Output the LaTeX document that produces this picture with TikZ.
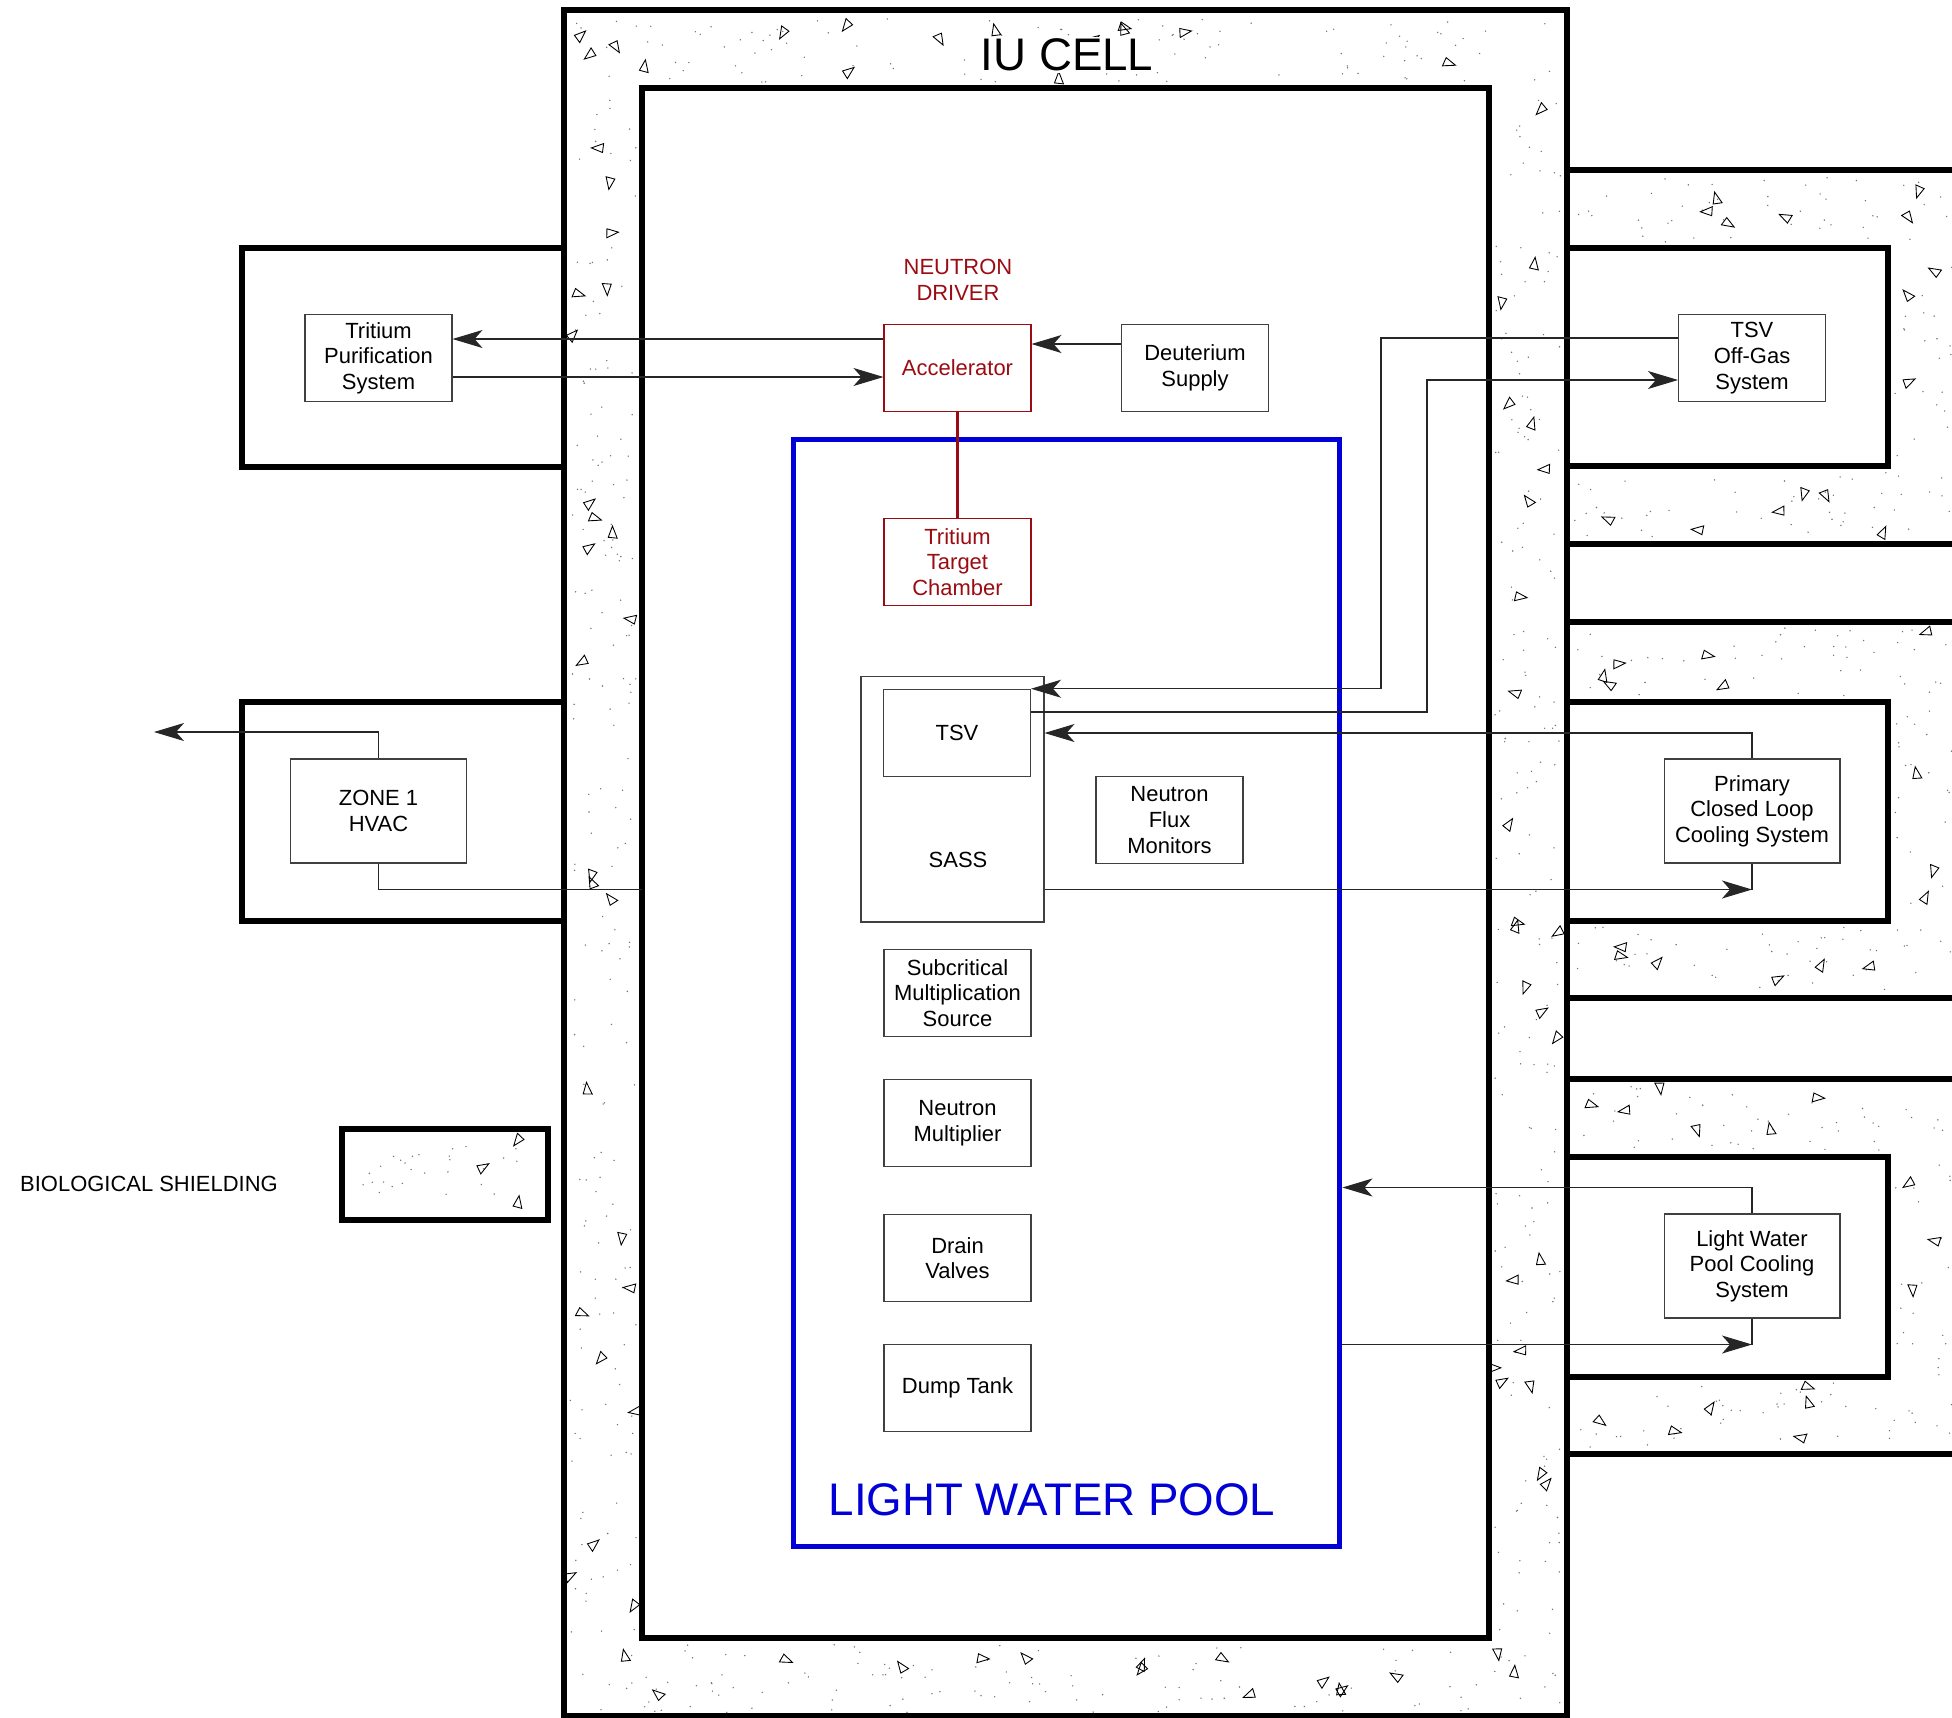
\documentclass[tikz,border=0pt]{standalone}
\usepackage{fontspec}
\setmainfont{Liberation Sans}
\usetikzlibrary{arrows.meta}
\definecolor{driverred}{RGB}{155,12,18}
\definecolor{poolblue}{RGB}{0,0,215}
\tikzset{
    box/.style={draw=black!75, line width=0.6pt, fill=white,
                minimum width=2.94cm, minimum height=1.75cm,
                inner sep=2pt, align=center,
                font=\fontsize{12.5}{14.6}\selectfont},
    widebox/.style={box, minimum width=3.52cm, minimum height=2.08cm},
    driver/.style={box, draw=driverred, text=driverred},
    flow/.style={-{Stealth[length=0.6cm, width=0.36cm, inset=0.16cm]},
                 line width=0.6pt, black!85},
    pipe/.style={line width=0.6pt, black!85},
    wall/.style={line width=0.11cm},
    note/.style={font=\fontsize{12.5}{14.6}\selectfont, align=center},
    title/.style={font=\fontsize{26}{30}\selectfont},
    grit/.style={line width=0.5pt},
}
% scatter of concrete grit in a rectangle: x1 y1 x2 y2 dots triangles
\newcommand{\gritfill}[6]{%
  \foreach \k in {1,...,#5}{
    \pgfmathsetmacro{\cx}{(#1)+rnd*((#3)-(#1))}
    \pgfmathsetmacro{\cy}{(#2)+rnd*((#4)-(#2))}
    \fill[black!55] (\cx,\cy) circle[radius=0.45pt];
  }
  \foreach \k in {1,...,#6}{
    \pgfmathsetmacro{\cx}{(#1)+rnd*((#3)-(#1)-10)+5}
    \pgfmathsetmacro{\cy}{(#2)+rnd*((#4)-(#2)-10)+5}
    \pgfmathsetmacro{\ca}{rnd*360}
    \draw[grit] (\cx,\cy) -- +(\ca:13) -- +(\ca+42:12) -- cycle;
  }}

\begin{document}
\begin{tikzpicture}[x=0.02cm, y=-0.02cm]
    \useasboundingbox (0,0) rectangle (1952,1718);
    \pgfmathsetseed{1952}

    % concrete
    \gritfill{570}{16}{1561}{82}{110}{16}
    \gritfill{570}{1644}{1561}{1714}{115}{16}
    \gritfill{570}{92}{636}{1634}{170}{24}
    \gritfill{1495}{92}{1561}{1634}{170}{24}
    \gritfill{352}{1138}{525}{1205}{27}{3}
    \foreach \t/\rt/\rb/\b in {170/248/466/544, 622/702/921/998, 1079/1157/1377/1454}{
        \gritfill{1574}{\t+6}{1952}{\rt-6}{45}{6}
        \gritfill{1574}{\rb+6}{1952}{\b-6}{45}{6}
        \gritfill{1894}{\rt}{1952}{\rb}{20}{3}
    }

    % walls and rooms
    \draw[wall] (564,10) rectangle (1567,1716);
    \draw[wall] (642,88) rectangle (1489,1638);
    \draw[wall] (564,248) -| (242,467) -- (564,467);
    \draw[wall] (564,702) -| (242,921) -- (564,921);
    \foreach \t/\rt/\rb/\b in {170/248/466/544, 622/702/921/998, 1079/1157/1377/1454}{
        \draw[wall] (1567,\t) -- (1960,\t);
        \draw[wall] (1567,\rt) -| (1888,\rb) -- (1567,\rb);
        \draw[wall] (1567,\b) -- (1960,\b);
    }
    \draw[wall] (342,1129) rectangle (548,1220);

    \node[title, fill=white, inner sep=1pt] (cell) at (1067,55) {IU CELL};
    \node[draw=poolblue, line width=0.1cm, minimum width=10.94cm,
          minimum height=22.16cm] (pool) at (1066.5,993) {};
    \node[title, text=poolblue] (poollabel) at (1052,1500) {LIGHT WATER POOL};
    \node[note, anchor=west] (biolabel) at (14,1184) {BIOLOGICAL SHIELDING};

    \node[note, text=driverred] (driverlabel) at (958,280) {NEUTRON\\DRIVER};
    \node[driver] (accel) at (957.5,368) {Accelerator};
    \node[box] (deut) at (1195,368) {Deuterium\\Supply};
    \node[driver] (ttc) at (957.5,562) {Tritium\\Target\\Chamber};
    \node[box] (tps) at (378.5,358) {Tritium\\Purification\\System};
    \node[box] (tsvog) at (1752,358) {TSV\\Off-Gas\\System};

    \node[draw=black!75, line width=0.6pt, minimum width=3.66cm,
          minimum height=4.92cm] (sass) at (952.5,799) {};
    \node[box] (tsv) at (957,733) {TSV};
    \node[note] (sasslabel) at (958,860) {SASS};
    \node[box] (nfm) at (1169.5,820) {Neutron\\Flux\\Monitors};
    \node[box] (sms) at (957.5,993) {Subcritical\\Multiplication\\Source};
    \node[box] (nmult) at (957.5,1123) {Neutron\\Multiplier};
    \node[box] (dv) at (957.5,1258) {Drain\\Valves};
    \node[box] (dtank) at (957.5,1388) {Dump Tank};

    \node[widebox] (hvac) at (378.5,811) {ZONE 1\\HVAC};
    \node[widebox] (pcl) at (1752,811) {Primary\\Closed Loop\\Cooling System};
    \node[widebox] (lwpc) at (1752,1266) {Light Water\\Pool Cooling\\System};

    % connectors
    \coordinate (tpsin) at ([yshift=0.38cm]tps.east);
    \coordinate (tpsout) at ([yshift=-0.38cm]tps.east);
    \draw[flow] (tpsin -| accel.west) -- (tpsin);
    \draw[flow] (tpsout) -- (tpsout -| accel.west);
    \coordinate (deutout) at ([yshift=0.48cm]deut.west);
    \draw[flow] (deutout) -- (deutout -| accel.east);
    \draw[driverred, line width=1.4pt] (accel.south) -- (ttc.north);

    \coordinate (ogout) at ([yshift=0.4cm]tsvog.west);
    \coordinate (ogin) at ([yshift=-0.44cm]tsvog.west);
    \coordinate (riserA) at (1381,0);
    \coordinate (riserB) at (1427,0);
    \draw[flow] (ogout) -- (ogout -| riserA) -- (riserA |- tsv.north east)
        -- (tsv.north east);
    \coordinate (tsvout) at ([yshift=0.42cm]tsv.east);
    \draw[flow] (tsvout) -- (tsvout -| riserB) -- (riserB |- ogin) -- (ogin);

    \draw[flow] (pcl.north) |- (tsv.east -| sass.east);
    \coordinate (pclin) at ([yshift=-0.52cm]pcl.south);
    \draw[pipe] (pcl.south) -- (pclin);
    \draw[flow] (pclin -| sass.east) -- (pclin);

    \coordinate (exhaust) at (154,732);
    \draw[flow] (hvac.north) |- (exhaust);
    \coordinate (hvacout) at ([yshift=-0.52cm]hvac.south);
    \coordinate (cellin) at (642,88);
    \draw[pipe] (hvac.south) -- (hvacout) -- (hvacout -| cellin);

    \coordinate (lwpcout) at ([yshift=0.52cm]lwpc.north);
    \draw[flow] (lwpc.north) -- (lwpcout) -- (lwpcout -| pool.east);
    \coordinate (lwpcin) at ([yshift=-0.52cm]lwpc.south);
    \draw[pipe] (lwpc.south) -- (lwpcin);
    \draw[flow] (lwpcin -| pool.east) -- (lwpcin);

\end{tikzpicture}
\end{document}
